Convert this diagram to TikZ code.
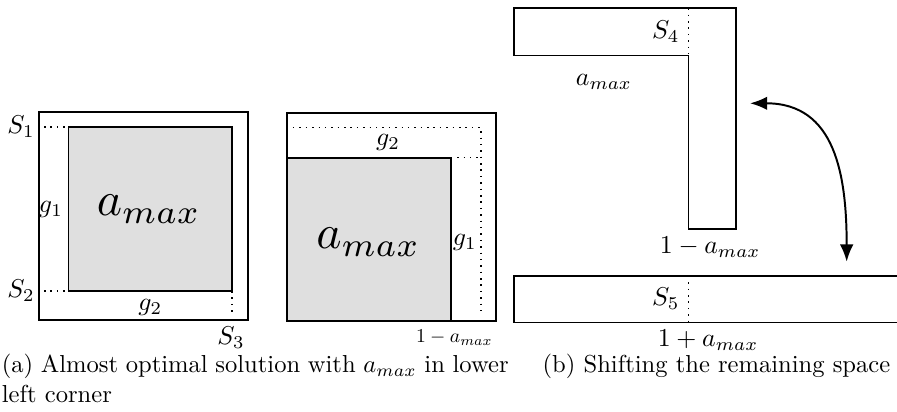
\documentclass[tikz,border=0pt]{standalone}
\usepackage{amsmath,amssymb}
\usetikzlibrary{arrows.meta,positioning,calc}
\tikzset{
  frame/.style={thick},
  amaxbox/.style={thick,fill=gray!25},
  gapline/.style={semithick,dotted},
  lbl/.style={scale=1.05},
  biglbl/.style={scale=1.95},
}
\begin{document}
\begin{tikzpicture}[>={Latex[length=7pt,width=5.5pt]}]
    \useasboundingbox (0,0) rectangle (12.833,5.894);
    \clip (0,0) rectangle (12.833,5.894);
    % (a) left square
    \draw[frame] (0.56,1.31) rectangle (3.55,4.29);
    \draw[amaxbox] (0.98,1.73) rectangle (3.32,4.08);
    \node[biglbl] (amaxA) at (2.13,2.90) {$a_{max}$};
    \draw[gapline] (0.63,4.08) node[lbl,left] (sA) {$S_1$} -- (0.98,4.08);
    \draw[gapline] (0.63,1.73) node[lbl,left] (sB) {$S_2$} -- (0.98,1.73);
    \draw[gapline] (3.32,1.73) -- (3.32,1.39);
    \node[lbl] (sC) at (3.305,1.06) {$S_3$};
    \node[lbl,left,inner sep=2pt] (gA) at (0.98,2.90) {$g_1$};
    \node[lbl] (gB) at (2.15,1.50) {$g_2$};
    % (a) right square
    \draw[frame] (4.10,1.30) rectangle (7.09,4.28);
    \draw[amaxbox] (4.10,1.30) rectangle (6.45,3.64);
    \node[biglbl] (amaxB) at (5.27,2.43) {$a_{max}$};
    \draw[gapline] (4.10,4.07) -- (6.88,4.07) -- (6.88,1.39);
    \draw[gapline] (6.45,3.64) -- (6.88,3.64);
    \node[lbl] (gC) at (5.55,3.85) {$g_2$};
    \node[lbl] (gD) at (6.65,2.43) {$g_1$};
    \node[scale=0.8] (restA) at (6.50,1.06) {$1-a_{max}$};
    % (b) L-shaped space
    \draw[frame] (7.36,5.775) -- (10.525,5.775) -- (10.525,2.62) -- (9.85,2.62)
        -- (9.85,5.10) -- (7.36,5.10) -- cycle;
    \draw[gapline] (9.85,5.775) -- (9.85,5.10);
    \node[lbl,left] (sD) at (9.85,5.44) {$S_4$};
    \node[lbl] (amaxC) at (8.64,4.725) {$a_{max}$};
    \node[lbl] (restB) at (10.16,2.36) {$1-a_{max}$};
    % (b) shifted strip
    \draw[frame] (7.36,1.28) rectangle (12.9,1.946);
    \draw[gapline] (9.85,1.946) -- (9.85,1.28);
    \node[lbl,left] (sE) at (9.85,1.62) {$S_5$};
    \node[lbl] (restC) at (10.13,1.03) {$1+a_{max}$};
    % shift arrow
    \coordinate (shiftA) at (10.73,4.416);
    \coordinate (shiftB) at (12.113,2.15);
    \draw[thick,<->] (shiftA) .. controls (11.95,4.416) and (12.113,3.39) .. (shiftB);
    % captions
    \node[anchor=north west,inner sep=0pt,text width=7.25cm,align=justify] (capA) at (0.02,0.83)
        {(a) Almost optimal solution with $a_{max}$ in lower left corner};
    \node[anchor=base,inner sep=0pt] (capB) at (10.25,0.568) {(b) Shifting the remaining space};
\end{tikzpicture}
\end{document}
